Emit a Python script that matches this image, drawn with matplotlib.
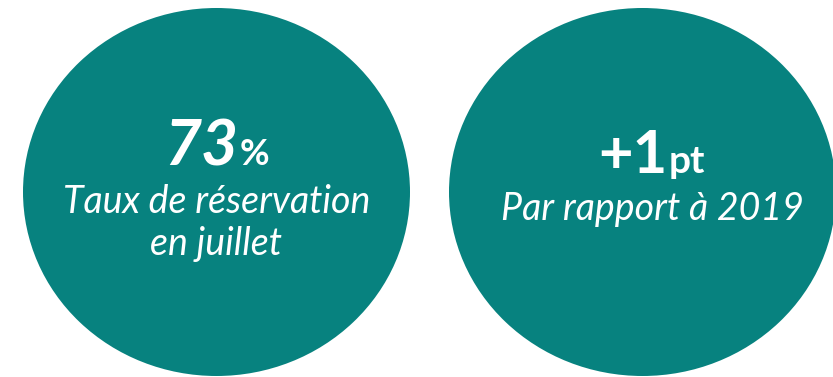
import matplotlib
matplotlib.use("Agg")
import matplotlib.pyplot as plt
from matplotlib.patches import Ellipse

# KPI values shown in the two bubbles
values = ["73", "+1"]
units = ["%", "pt"]
labels = [["Taux de réservation", "en juillet"], ["Par rapport à 2019"]]
value_styles = ["italic", "normal"]

teal = "#07827F"
W, H = 833, 377

fig = plt.figure(figsize=(W / 100, H / 100), dpi=100)
ax = fig.add_axes([0, 0, 1, 1])
ax.set_xlim(0, W)
ax.set_ylim(H, 0)
ax.axis("off")

# bubble geometry (pixels)
centers = [(216.5, 192), (642.5, 192)]
text_x = [216.5, 652]
bw, bh = 387, 368
value_base = [165, 173]
value_size = [46, 43]
unit_size = [26, 28]
label_base = [213, 220]

renderer = fig.canvas.get_renderer()

for i in range(len(values)):
    cx, cy = centers[i]
    ax.add_patch(Ellipse((cx, cy), bw, bh, color=teal, lw=0))

    tx = text_x[i]
    big = ax.text(0, value_base[i], values[i], fontsize=value_size[i],
                  fontweight="bold", style=value_styles[i], color="white",
                  family="Lato", ha="left", va="baseline")
    small = ax.text(0, value_base[i], units[i], fontsize=unit_size[i],
                    fontweight="bold", color="white", family="Lato",
                    ha="left", va="baseline")
    wb = big.get_window_extent(renderer).width
    ws = small.get_window_extent(renderer).width
    gap = 1
    x0 = tx - (wb + gap + ws) / 2
    big.set_x(x0)
    small.set_x(x0 + wb + gap)

    for j, line in enumerate(labels[i]):
        ax.text(tx, label_base[i] + 42 * j, line, fontsize=27, style="italic",
                color="white", family="Lato", ha="center", va="baseline")

fig.savefig("out.png", dpi=100)
